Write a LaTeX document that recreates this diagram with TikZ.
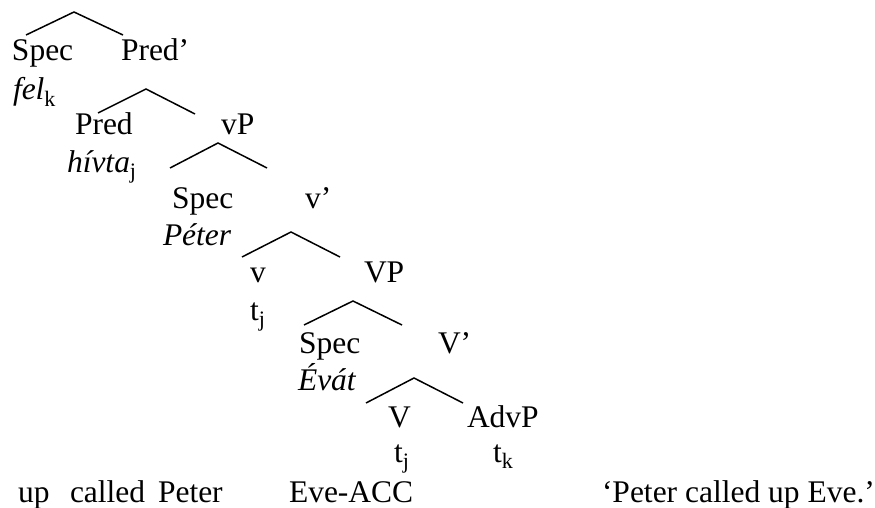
\documentclass[tikz,border=0pt]{standalone}
\usepackage{fontspec}
\setmainfont{Liberation Serif}
\begin{document}
\begin{tikzpicture}[x=1pt,y=-1pt,
  lbl/.style={anchor=base west,inner sep=0pt,outer sep=0pt,font=\fontsize{31.5}{36}\selectfont},
  branch/.style={line width=1.5pt,line join=miter}]
\useasboundingbox (0,0) rectangle (875,508);
% labels
\node[lbl] (spec1) at (12,61) {Spec};
\node[lbl] (predbar) at (121,61) {Pred’};
\node[lbl] (fel) at (13,100) {\textit{fel}\textsubscript{k}};
\node[lbl] (pred) at (75,135) {Pred};
\node[lbl] (vP) at (221,135) {vP};
\node[lbl] (hivta) at (67,172) {\textit{hívta}\textsubscript{j}};
\node[lbl] (spec2) at (172,208) {Spec};
\node[lbl] (vbar) at (305,208) {v’};
\node[lbl] (peter) at (163,245) {\textit{Péter}};
\node[lbl] (v) at (250,282) {v};
\node[lbl] (VP) at (364,282) {VP};
\node[lbl] (tj1) at (250,320) {t\textsubscript{j}};
\node[lbl] (spec3) at (299,353) {Spec};
\node[lbl] (Vbar) at (438,353) {V’};
\node[lbl] (evat) at (298,390) {\textit{Évát}};
\node[lbl] (V) at (388,427) {V};
\node[lbl] (advp) at (467,427) {AdvP};
\node[lbl] (tj2) at (394,462) {t\textsubscript{j}};
\node[lbl] (tk) at (493,462) {t\textsubscript{k}};
\node[lbl] (up) at (18,502) {up};
\node[lbl] (called) at (70,502) {called};
\node[lbl] (Peter) at (158,502) {Peter};
\node[lbl] (eveacc) at (289,502) {Eve-ACC};
\node[lbl] (trans) at (602,502) {‘Peter called up Eve.’};
% branch coordinates
\coordinate (b1l) at (26,35);  \coordinate (b1a) at (74,12);  \coordinate (b1r) at (123,35);
\coordinate (b2l) at (98,113); \coordinate (b2a) at (146,89); \coordinate (b2r) at (195,114);
\coordinate (b3l) at (170,168);\coordinate (b3a) at (218,143);\coordinate (b3r) at (267,168);
\coordinate (b4l) at (242,257);\coordinate (b4a) at (291,232);\coordinate (b4r) at (340,257);
\coordinate (b5l) at (304,325);\coordinate (b5a) at (353,301);\coordinate (b5r) at (402,325);
\coordinate (b6l) at (366,403);\coordinate (b6a) at (414,378);\coordinate (b6r) at (463,403);
\draw[branch] (b1l) -- (b1a) -- (b1r);
\draw[branch] (b2l) -- (b2a) -- (b2r);
\draw[branch] (b3l) -- (b3a) -- (b3r);
\draw[branch] (b4l) -- (b4a) -- (b4r);
\draw[branch] (b5l) -- (b5a) -- (b5r);
\draw[branch] (b6l) -- (b6a) -- (b6r);
\end{tikzpicture}
\end{document}
